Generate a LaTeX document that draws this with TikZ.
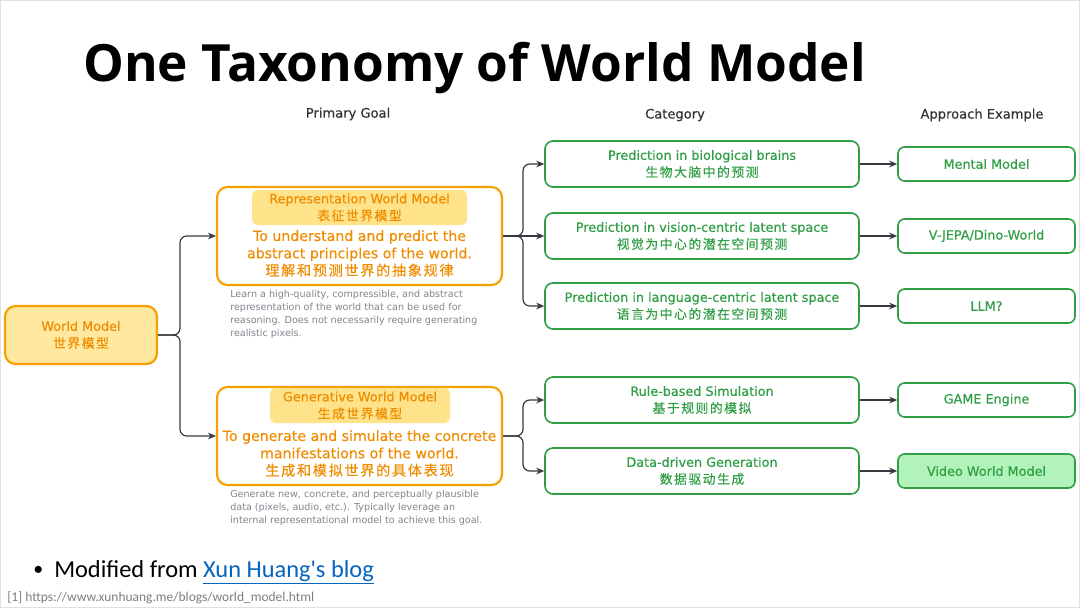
\documentclass[tikz,border=0pt]{standalone}
\usepackage{fontspec}
\setmainfont[FakeBold=0.35]{DejaVu Sans}
\newfontfamily\plainfont{DejaVu Sans}
\newfontfamily\titlefont{Open Sans}
\newfontfamily\cjk[LetterSpace=12,FakeBold=0.35]{Noto Sans CJK SC}
\newfontfamily\calib{Carlito}
\usetikzlibrary{arrows.meta}
\definecolor{orgline}{HTML}{F59F00}
\definecolor{orgtext}{HTML}{F08C00}
\definecolor{yfill}{HTML}{FFE8A0}
\definecolor{hfill}{HTML}{FFE38A}
\definecolor{grn}{HTML}{2F9E44}
\definecolor{gfill}{HTML}{B2F2BB}
\definecolor{desccol}{HTML}{80868E}
\definecolor{conncol}{HTML}{343A40}
\definecolor{headcol}{HTML}{333333}
\definecolor{linkblue}{HTML}{0563C1}
\definecolor{footgray}{HTML}{7F7F7F}
\begin{document}
\begin{tikzpicture}[x=0.75pt,y=-0.75pt,
  obox/.style={draw=orgline, line width=1.6pt, rounded corners=8pt, fill=white, inner sep=0pt},
  hbox/.style={fill=hfill, rounded corners=4pt, inner sep=0pt, align=center, text=orgtext,
    font=\fontsize{9.6}{12.75}\selectfont},
  otext/.style={align=center, text=orgtext, inner sep=0pt, font=\fontsize{10.6}{13}\selectfont},
  gbox/.style={draw=grn, line width=1.2pt, rounded corners=6pt, fill=white,
    minimum width=235.5pt, minimum height=34.5pt, align=center, text=grn, inner sep=0pt,
    font=\fontsize{9.6}{12.75}\selectfont},
  abox/.style={draw=grn, line width=1.2pt, rounded corners=5pt, fill=white,
    minimum width=132.75pt, minimum height=25.5pt, align=center, text=grn, inner sep=0pt,
    font=\fontsize{9.6}{12}\selectfont},
  desc/.style={anchor=north west, align=left, text=desccol, inner sep=0pt,
    font=\plainfont\fontsize{7.2}{9.75}\selectfont},
  head/.style={text=headcol, inner sep=0pt, font=\fontsize{9.8}{12}\selectfont},
  conn/.style={draw=conncol, line width=0.9pt, rounded corners=5pt,
    -{Stealth[length=6pt,width=5pt]}}
]
\useasboundingbox (0,0) rectangle (1080,608);
\fill[white] (0,0) rectangle (1080,608);
\draw[black!12, line width=0.75pt] (0.5,0.5) rectangle (1079.5,607.5);

% title
\node[anchor=base west, inner sep=0pt, font=\titlefont\fontsize{38.5}{46}\selectfont\bfseries] (title) at (83,81) {One Taxonomy of World Model};

% headers
\node[head] (h1) at (348,114) {Primary Goal};
\node[head] (h2) at (675,115) {Category};
\node[head] (h3) at (982,115) {Approach Example};

% world model
\node[obox, fill=yfill, minimum width=114pt, minimum height=43.5pt, align=center, text=orgtext,
  font=\fontsize{9.6}{12.75}\selectfont] (wm) at (81,335) {World Model\\{\cjk 世界模型}};

% representation box
\node[obox, minimum width=213.75pt, minimum height=73.5pt] (rep) at (359.5,236) {};
\node[hbox, minimum width=161.25pt, minimum height=26.25pt] (reph) at (359.5,207.5)
  {Representation World Model\\{\cjk 表征世界模型}};
\node[otext] (rept) at (359.5,253.5)
  {To understand and predict the\\abstract principles of the world.\\{\cjk 理解和预测世界的抽象规律}};
\node[desc] (repd) at (230,290) {Learn a high-quality, compressible, and abstract\\representation of the world that can be used for\\reasoning. Does not necessarily require generating\\realistic pixels.};

% generative box
\node[obox, minimum width=213.75pt, minimum height=73.5pt] (gen) at (359.5,436) {};
\node[hbox, minimum width=135pt, minimum height=26.25pt] (genh) at (360,405.5)
  {Generative World Model\\{\cjk 生成世界模型}};
\node[otext] (gent) at (359.5,453.5)
  {To generate and simulate the concrete\\manifestations of the world.\\{\cjk 生成和模拟世界的具体表现}};
\node[desc] (gend) at (230,490) {Generate new, concrete, and perceptually plausible\\data (pixels, audio, etc.). Typically leverage an\\internal representational model to achieve this goal.};

% categories
\node[gbox] (c1) at (702,164) {Prediction in biological brains\\{\cjk 生物大脑中的预测}};
\node[gbox] (c2) at (702,236) {Prediction in vision-centric latent space\\{\cjk 视觉为中心的潜在空间预测}};
\node[gbox] (c3) at (702,306) {Prediction in language-centric latent space\\{\cjk 语言为中心的潜在空间预测}};
\node[gbox] (c4) at (702,400) {Rule-based Simulation\\{\cjk 基于规则的模拟}};
\node[gbox] (c5) at (702,471) {Data-driven Generation\\{\cjk 数据驱动生成}};

% approaches
\node[abox] (a1) at (986.5,164) {Mental Model};
\node[abox] (a2) at (986.5,236) {V-JEPA/Dino-World};
\node[abox] (a3) at (986.5,306) {LLM?};
\node[abox] (a4) at (986.5,400) {GAME Engine};
\node[abox, fill=gfill] (a5) at (986.5,471) {Video World Model};

% connectors
\coordinate (j1) at (180,335);
\coordinate (j2) at (523,236);
\coordinate (j3) at (523,436);
\draw[conn] (wm.east) -- (j1) |- (rep.west);
\draw[conn] (wm.east) -- (j1) |- (gen.west);
\draw[conn] (rep.east) -- (j2) |- (c1.west);
\draw[conn] (rep.east) -- (c2.west);
\draw[conn] (rep.east) -- (j2) |- (c3.west);
\draw[conn] (gen.east) -- (j3) |- (c4.west);
\draw[conn] (gen.east) -- (j3) |- (c5.west);
\draw[conn] (c1.east) -- (a1.west);
\draw[conn] (c2.east) -- (a2.west);
\draw[conn] (c3.east) -- (a3.west);
\draw[conn] (c4.east) -- (a4.west);
\draw[conn] (c5.east) -- (a5.west);

% footer
\node[anchor=base west, inner sep=0pt, font=\calib\fontsize{15}{18}\selectfont] (bul) at (33,575) {•};
\node[anchor=base west, inner sep=0pt, font=\calib\fontsize{18.3}{22}\selectfont] (mod) at (54,577)
  {Modified from \textcolor{linkblue}{\underline{Xun Huang's blog}}};
\node[anchor=base west, inner sep=0pt, text=footgray, font=\calib\fontsize{10.1}{12}\selectfont] (ref) at (7,601)
  {[1] https://www.xunhuang.me/blogs/world\_model.html};
\end{tikzpicture}
\end{document}
